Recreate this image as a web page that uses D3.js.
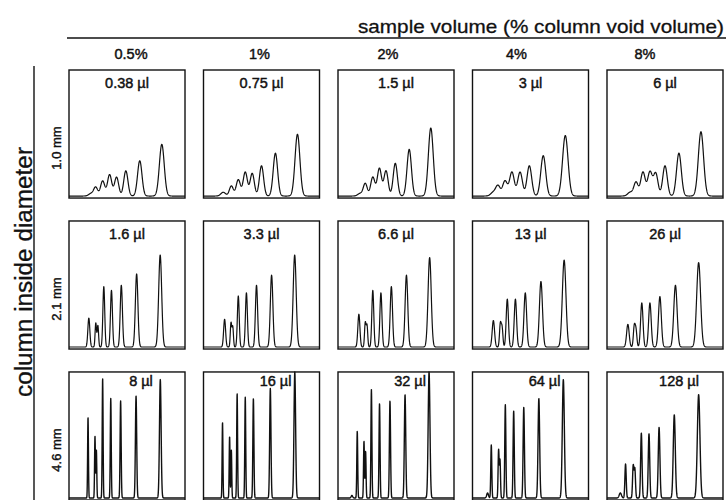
<!DOCTYPE html>
<html>
<head>
<meta charset="utf-8">
<script src="https://cdn.jsdelivr.net/npm/d3@7"></script>
<style>
  body { margin: 0; background: #fff; }
  text { font-family: "Liberation Sans", Arial, sans-serif; fill: #111; stroke: #111; }
</style>
</head>
<body>
<svg width="726" height="500"></svg>
<script>
const svg = d3.select('svg');
const width = +svg.attr('width');
const height = +svg.attr('height');

// sample volume (% of column void volume)
const columns = ['0.5%', '1%', '2%', '4%', '8%'];
// column inside diameter
const rows = ['1.0 mm', '2.1 mm', '4.6 mm'];

// injected volume shown in each panel
const volumes = [
  ['0.38 µl', '0.75 µl', '1.5 µl', '3 µl', '6 µl'],
  ['1.6 µl', '3.3 µl', '6.6 µl', '13 µl', '26 µl'],
  ['8 µl', '16 µl', '32 µl', '64 µl', '128 µl']
];

// retention of each peak (fraction of run), one array per panel
const retention = [
  [
    [0.19, 0.23, 0.29, 0.35, 0.41, 0.49, 0.61, 0.80],
    [0.17, 0.24, 0.30, 0.36, 0.42, 0.50, 0.62, 0.81],
    [0.19, 0.235, 0.30, 0.357, 0.414, 0.494, 0.614, 0.80],
    [0.18, 0.22, 0.28, 0.34, 0.41, 0.49, 0.61, 0.80],
    [0.20, 0.25, 0.31, 0.37, 0.42, 0.50, 0.62, 0.81]
  ],
  [
    [0.171, 0.231, 0.249, 0.30, 0.366, 0.451, 0.583, 0.786],
    [0.182, 0.237, 0.252, 0.30, 0.37, 0.457, 0.587, 0.786],
    [0.18, 0.235, 0.25, 0.30, 0.37, 0.46, 0.59, 0.79],
    [0.18, 0.24, 0.255, 0.30, 0.37, 0.455, 0.59, 0.79],
    [0.18, 0.235, 0.25, 0.30, 0.37, 0.456, 0.59, 0.79]
  ],
  [
    [0.12, 0.164, 0.224, 0.236, 0.29, 0.36, 0.445, 0.578, 0.787],
    [0.12, 0.164, 0.225, 0.24, 0.29, 0.36, 0.43, 0.576, 0.787],
    [0.12, 0.166, 0.224, 0.238, 0.288, 0.358, 0.448, 0.578, 0.785],
    [0.13, 0.162, 0.225, 0.237, 0.283, 0.355, 0.442, 0.572, 0.783],
    [0.115, 0.16, 0.226, 0.24, 0.296, 0.362, 0.449, 0.58, 0.79]
  ]
];

// peak heights (fraction of panel height), one array per panel
const peakHeights = [
  [
    [0.02, 0.07, 0.12, 0.17, 0.15, 0.20, 0.28, 0.41],
    [0.03, 0.08, 0.13, 0.19, 0.18, 0.24, 0.34, 0.49],
    [0.02, 0.10, 0.15, 0.22, 0.20, 0.26, 0.37, 0.54],
    [0.03, 0.08, 0.12, 0.19, 0.19, 0.24, 0.32, 0.48],
    [0.03, 0.11, 0.19, 0.19, 0.18, 0.24, 0.34, 0.51]
  ],
  [
    [0.23, 0.19, 0.17, 0.48, 0.45, 0.49, 0.58, 0.73],
    [0.22, 0.19, 0.16, 0.405, 0.43, 0.49, 0.57, 0.73],
    [0.26, 0.19, 0.17, 0.45, 0.43, 0.48, 0.57, 0.71],
    [0.21, 0.18, 0.15, 0.38, 0.38, 0.43, 0.52, 0.69],
    [0.18, 0.16, 0.13, 0.35, 0.35, 0.40, 0.49, 0.67]
  ],
  [
    [0, 0.64, 0.49, 0.38, 0.95, 0.79, 0.77, 0.81, 0.94],
    [0, 0.60, 0.49, 0.38, 0.83, 0.80, 0.79, 0.87, 1.0],
    [0.02, 0.53, 0.45, 0.37, 0.86, 0.75, 0.77, 0.82, 1.0],
    [0.04, 0.42, 0.38, 0.30, 0.74, 0.69, 0.72, 0.79, 0.94],
    [0.04, 0.27, 0.255, 0.23, 0.515, 0.51, 0.56, 0.66, 0.82]
  ]
];

// peak widths (sigma, fraction of run) per row, and broadening per column
const peakWidths = [
  [0.02, 0.017, 0.018, 0.018, 0.018, 0.018, 0.019, 0.021],
  [0.0085, 0.006, 0.006, 0.008, 0.0085, 0.0095, 0.011, 0.013],
  [0.006, 0.0035, 0.0035, 0.0035, 0.0038, 0.004, 0.0045, 0.0055, 0.007]
];
const broadening = [
  [1, 1, 1, 1.12, 1.08],
  [1, 1, 1.05, 1.2, 1.3],
  [1, 1, 1.1, 1.25, 1.6]
];

// layout
const xBand = d3.scaleBand().domain(columns).range([69, 723]).paddingInner(0.1375).paddingOuter(0);
const yBand = d3.scaleBand().domain(rows).range([70, 500]).paddingInner(0.152).paddingOuter(0);
const headerX = d3.scalePoint().domain(columns).range([131, 645]);

// title and its rule
svg.append('text')
  .attr('x', 724)
  .attr('y', 33)
  .attr('text-anchor', 'end')
  .attr('font-size', 19)
  .attr('textLength', 366)
  .attr('lengthAdjust', 'spacingAndGlyphs')
  .attr('stroke-width', 0.3)
  .text('sample volume (% column void volume)');

svg.append('line')
  .attr('x1', 67).attr('x2', width)
  .attr('y1', 38).attr('y2', 38)
  .attr('stroke', '#111').attr('stroke-width', 1.4);

svg.selectAll('.col-label')
  .data(columns)
  .join('text')
  .attr('class', 'col-label')
  .attr('x', d => headerX(d))
  .attr('y', 59)
  .attr('text-anchor', 'middle')
  .attr('font-size', 14.5)
  .attr('stroke-width', 0.45)
  .text(d => d);

// left axis title and its rule
svg.append('text')
  .attr('transform', `translate(32,272) rotate(-90)`)
  .attr('text-anchor', 'middle')
  .attr('font-size', 23)
  .attr('textLength', 250)
  .attr('lengthAdjust', 'spacingAndGlyphs')
  .attr('stroke-width', 0.3)
  .text('column inside diameter');

svg.append('line')
  .attr('x1', 34).attr('x2', 34)
  .attr('y1', 66).attr('y2', height)
  .attr('stroke', '#111').attr('stroke-width', 1.4);

svg.selectAll('.row-label')
  .data(rows)
  .join('text')
  .attr('class', 'row-label')
  .attr('transform', d => `translate(61,${yBand(d) + 78}) rotate(-90)`)
  .attr('text-anchor', 'middle')
  .attr('font-size', 13)
  .attr('stroke-width', 0.4)
  .text(d => d);

// chromatogram panels
const samples = d3.range(0, 1.0005, 0.0012);

rows.forEach((row, ri) => {
  columns.forEach((col, ci) => {
    const x0 = xBand(col);
    const y0 = yBand(row);
    const w = xBand.bandwidth();
    const h = yBand.bandwidth();

    const x = d3.scaleLinear().domain([0, 1]).range([x0, x0 + w]);
    const y = d3.scaleLinear().domain([0, 1]).range([y0 + h - 2, y0]);

    const rt = retention[ri][ci];
    const hts = peakHeights[ri][ci];
    const sig = peakWidths[ri].map(s => s * broadening[ri][ci]);

    const signal = samples.map(t => {
      let v = 0;
      rt.forEach((r, k) => {
        v += hts[k] * Math.exp(-((t - r) ** 2) / (2 * sig[k] * sig[k]));
      });
      return [t, Math.min(v, 1)];
    });

    const g = svg.append('g');

    g.append('rect')
      .attr('x', x0).attr('y', y0)
      .attr('width', w).attr('height', h)
      .attr('fill', 'none')
      .attr('stroke', '#111')
      .attr('stroke-width', 1.4);

    g.append('path')
      .datum(signal)
      .attr('fill', 'none')
      .attr('stroke', '#111')
      .attr('stroke-width', ri === 2 ? 1.4 : 1.2)
      .attr('stroke-linejoin', 'round')
      .attr('d', d3.line().x(d => x(d[0])).y(d => y(d[1])));

    // row 3 labels sit higher and to the right
    g.append('text')
      .attr('x', x0 + w / 2 + (ri === 2 ? 14 : 0))
      .attr('y', y0 + (ri === 2 ? 14 : 18))
      .attr('text-anchor', 'middle')
      .attr('font-size', 14.5)
      .attr('stroke-width', 0.45)
      .text(volumes[ri][ci]);
  });
});
</script>
</body>
</html>
